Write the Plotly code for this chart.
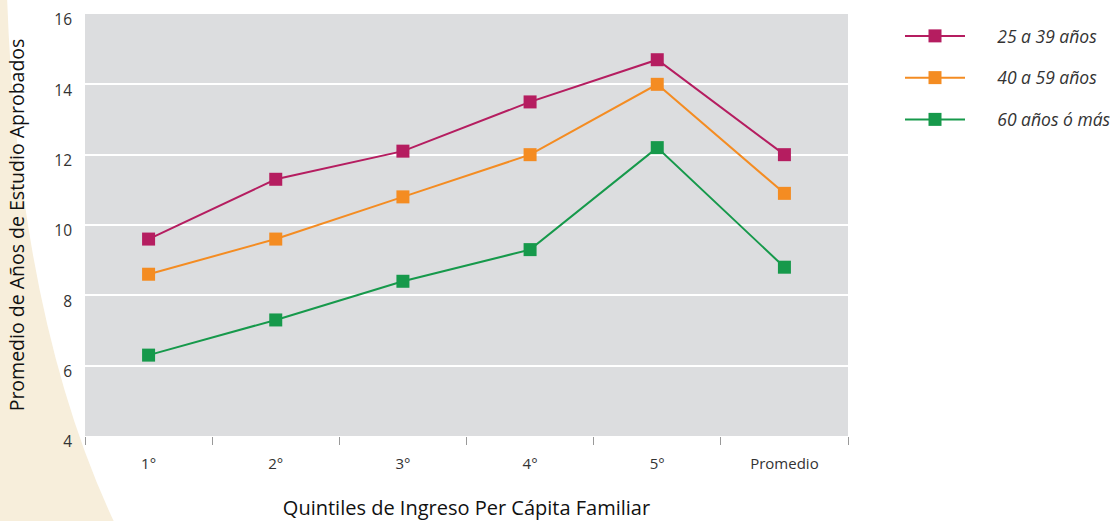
import plotly.graph_objects as go

quintiles = ['1°', '2°', '3°', '4°', '5°', 'Promedio']
edad_25_39 = [9.6, 11.3, 12.1, 13.5, 14.7, 12.0]
edad_40_59 = [8.6, 9.6, 10.8, 12.0, 14.0, 10.9]
edad_60_mas = [6.3, 7.3, 8.4, 9.3, 12.2, 8.8]

series = [
    ('25 a 39 años', edad_25_39, '#b51d60'),
    ('40 a 59 años', edad_40_59, '#f48c22'),
    ('60 años ó más', edad_60_mas, '#16994b'),
]

W, H = 1110, 521
L, R, T, B = 85, 262, 14, 85
pw, ph = W - L - R, H - T - B


def px(x):
    return (x - L) / pw


def py(y):
    return (H - B - y) / ph


fig = go.Figure()
for i, (name, vals, col) in enumerate(series):
    fig.add_trace(go.Scatter(
        x=quintiles, y=vals, name='&nbsp;' * 6 + name, mode='lines+markers',
        line=dict(color=col, width=2),
        marker=dict(symbol='square', size=13, color=col),
        legendgroup=str(i),
    ))

# decorative cream curve on the left
path = (f'M {px(0)},{py(-5)} L {px(7)},{py(-5)} '
        f'Q {px(18)},{py(320)} {px(116)},{py(526)} '
        f'L {px(0)},{py(526)} Z')
fig.add_shape(type='path', path=path, xref='paper', yref='paper',
              fillcolor='#f7eedb', line=dict(width=0), layer='below')

fig.update_layout(
    width=W, height=H,
    margin=dict(l=L, r=R, t=T, b=B, autoexpand=False),
    paper_bgcolor='white',
    plot_bgcolor='#dcdddf',
    font=dict(family='Open Sans', color='#333333', size=15),
    legend=dict(
        xref='container', yref='container',
        x=900 / W, y=1 - 18 / H, xanchor='left', yanchor='top',
        font=dict(size=17.5, color='#333333', style='italic'),
        traceorder='grouped', tracegroupgap=16,
        itemwidth=60, bgcolor='rgba(0,0,0,0)',
    ),
    xaxis=dict(
        title=dict(text='Quintiles de Ingreso Per Cápita Familiar',
                   font=dict(size=20, color='#111111'), standoff=34),
        automargin=False, range=[-0.5, len(quintiles) - 0.5],
        tickson='boundaries', ticks='outside', ticklen=8,
        tickcolor='#999999', tickwidth=1,
        showgrid=False, showline=False, zeroline=False,
        tickfont=dict(size=15), ticklabelstandoff=17,
    ),
    yaxis=dict(
        title=dict(text='Promedio de Años de Estudio Aprobados',
                   font=dict(size=19.5, color='#111111'), standoff=24),
        automargin=False,
        range=[4, 16], dtick=2,
        showgrid=True, gridcolor='white', gridwidth=2,
        zeroline=False, showline=False, ticks='',
        tickfont=dict(size=15.5), ticklabelstandoff=12, ticklabelshift=6,
        ticklabeloverflow='allow',
    ),
)

fig.write_html('out.html', config={'displayModeBar': False},
               post_script="document.body.style.margin='0';")
